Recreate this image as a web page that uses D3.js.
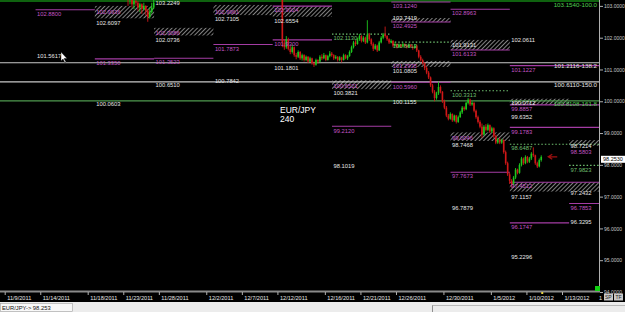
<!DOCTYPE html>
<html>
<head>
<meta charset="utf-8">
<script src="https://cdn.jsdelivr.net/npm/d3@7"></script>
<style>
  body { margin: 0; background: #000; }
  svg { display: block; font-family: "Liberation Sans", Arial, sans-serif; }
</style>
</head>
<body>
<script>
// EUR/JPY 240 chart, Nov 2011 - Jan 2012

// day index of each week boundary (level segments run week to week)
var weekBounds = [2.6, 7.6, 12.6, 17.6, 22.6, 27.6, 32.6, 37.6, 42.6, 47.6, 52.6];

// date axis
var tickDays = [0, 3, 7, 10, 13, 17, 20, 23, 27, 30, 33, 37, 41, 44, 47];
var tickLabels = ["11/9/2011", "11/14/2011", "11/18/2011", "11/23/2011", "11/28/2011", "12/2/2011",
    "12/7/2011", "12/12/2011", "12/16/2011", "12/21/2011", "12/26/2011", "12/30/2011",
    "1/5/2012", "1/10/2012", "1/13/2012"];
var priceTicks = [94, 95, 96, 97, 98, 99, 100, 101, 102, 103];

// full width fib lines
var fibPrices = [103.1540, 101.2116, 100.6110, 100.0108];
var fibTags = ["100.0", "138.2", "150.0", "161.8"];
var fibColors = ["#1fc41f", "#c8c8c8", "#c8c8c8", "#4f9a4f"];

// hatched zones: [week from, week to, top, bottom]
var zones = [
    [1, 2, 103.00, 102.61], [2, 3, 102.31, 102.07], [3, 4, 103.03, 102.71],
    [4, 5, 102.99, 102.66], [5, 6, 100.66, 100.38], [6, 7, 102.62, 102.49],
    [6, 7, 101.27, 101.08], [7, 8, 101.93, 101.61], [7, 8, 99.02, 98.75],
    [8, 9, 100.08, 99.89], [8, 10, 97.45, 97.16], [9, 10, 98.78, 98.60]
];

// weekly levels: [week from, week to, kind, price]
var levels = [
    [0, 1, "line", 102.8800], [0, 1, "text", 101.5617],
    [1, 2, "ptext", 102.9936], [1, 2, "text", 102.6097], [1, 2, "line", 101.3350], [1, 2, "text", 100.0603],
    [2, 3, "text", 103.2249], [2, 3, "ptext", 102.3086], [2, 3, "text", 102.0736], [2, 3, "line", 101.3523], [2, 3, "text", 100.6510],
    [3, 4, "ptext", 102.9961], [3, 4, "text", 102.7105], [3, 4, "line", 101.7873], [3, 4, "text", 100.7842],
    [4, 5, "line", 102.9924], [4, 5, "text", 102.6554], [4, 5, "line", 101.9300], [4, 5, "text", 101.1801],
    [5, 6, "dot", 102.1130], [5, 6, "ptext", 100.6521], [5, 6, "text", 100.3821], [5, 6, "line", 99.2120], [5, 6, "text", 98.1019],
    [6, 7, "line", 103.1240], [6, 7, "text", 102.7419], [6, 7, "line", 102.4925], [6, 7, "dot", 101.8613],
    [6, 7, "ptext", 101.2935], [6, 7, "text", 101.0805], [6, 7, "line", 100.5960], [6, 7, "text", 100.1155],
    [7, 8, "line", 102.8963], [7, 8, "text", 101.9131], [7, 8, "line", 101.6133], [7, 8, "dot", 100.3313],
    [7, 8, "ptext", 99.0046], [7, 8, "text", 98.7468], [7, 8, "line", 97.7673], [7, 8, "text", 96.7879],
    [8, 9, "text", 102.0611], [8, 10, "line", 101.1227], [8, 9, "text", 100.0712], [8, 10, "line", 99.8857],
    [8, 9, "text", 99.6352], [8, 10, "line", 99.1783], [8, 10, "dot", 98.6487], [8, 10, "line", 97.4512],
    [8, 9, "text", 97.1157], [8, 9, "line", 96.1747], [8, 9, "text", 95.2296],
    [9, 10, "text", 98.7214], [9, 10, "ptext", 98.5803], [9, 10, "dot", 97.9823], [9, 10, "text", 97.2432],
    [9, 10, "line", 96.7853], [9, 10, "text", 96.3295]
];

// 4h candles [open, high, low, close]
var startA = 10.4;
var candlesA = [
    [103.30, 103.40, 103.00, 103.20], [103.20, 103.30, 103.05, 103.25], [103.25, 103.35, 102.95, 103.05],
    [103.05, 103.20, 102.90, 103.15], [103.15, 103.30, 103.00, 103.10], [103.10, 103.15, 102.85, 102.95],
    [102.95, 103.10, 102.80, 103.05], [103.05, 103.08, 102.75, 102.90], [102.90, 103.10, 102.86, 103.00],
    [103.00, 103.02, 102.70, 102.85], [102.85, 102.90, 102.50, 102.65], [102.65, 102.95, 102.60, 102.80],
    [102.80, 103.10, 102.76, 102.95], [102.95, 103.30, 102.90, 103.10]
];
var startB = 23.25;
var candlesB = [
    [103.30, 103.45, 103.22, 103.35], [103.35, 103.40, 101.70, 101.85], [101.85, 101.95, 101.62, 101.70],
    [101.70, 102.05, 101.65, 101.95], [101.95, 102.00, 101.60, 101.65], [101.65, 101.75, 101.48, 101.55],
    [101.55, 101.78, 101.50, 101.70], [101.70, 101.72, 101.40, 101.45], [101.45, 101.52, 101.32, 101.40],
    [101.40, 101.60, 101.36, 101.55], [101.55, 101.58, 101.30, 101.35], [101.35, 101.50, 101.28, 101.45],
    [101.45, 101.48, 101.25, 101.30], [101.30, 101.44, 101.26, 101.40], [101.40, 101.42, 101.20, 101.25],
    [101.25, 101.40, 101.22, 101.35], [101.35, 101.37, 101.15, 101.20], [101.20, 101.25, 101.08, 101.15],
    [101.15, 101.34, 101.12, 101.30], [101.30, 101.32, 101.18, 101.25], [101.25, 101.45, 101.22, 101.40],
    [101.40, 101.48, 101.30, 101.35], [101.35, 101.52, 101.32, 101.45], [101.45, 101.47, 101.26, 101.30],
    [101.30, 101.46, 101.28, 101.42], [101.42, 101.58, 101.38, 101.50], [101.50, 101.55, 101.40, 101.45],
    [101.45, 101.48, 101.30, 101.35], [101.35, 101.45, 101.32, 101.40], [101.40, 101.42, 101.25, 101.30],
    [101.30, 101.42, 101.26, 101.38], [101.38, 101.40, 101.22, 101.30], [101.30, 101.50, 101.28, 101.45],
    [101.45, 101.48, 101.32, 101.35], [101.35, 101.46, 101.30, 101.42], [101.42, 101.60, 101.40, 101.55],
    [101.55, 101.75, 101.52, 101.70], [101.70, 101.90, 101.66, 101.85], [101.85, 101.92, 101.74, 101.80],
    [101.80, 102.00, 101.78, 101.95], [101.95, 102.12, 101.90, 102.05], [102.05, 102.08, 101.85, 101.90],
    [101.90, 102.05, 101.86, 102.00], [102.00, 102.03, 101.80, 101.85], [101.85, 102.55, 101.82, 102.10],
    [102.10, 102.15, 101.90, 101.95], [101.95, 101.98, 101.75, 101.80], [101.80, 101.85, 101.58, 101.65],
    [101.65, 101.80, 101.62, 101.75], [101.75, 101.78, 101.55, 101.60], [101.60, 101.90, 101.58, 101.85],
    [101.85, 102.05, 101.82, 102.00], [102.00, 102.15, 101.95, 102.10], [102.10, 102.35, 102.00, 102.05],
    [102.05, 102.08, 101.90, 101.95], [101.95, 101.98, 101.80, 101.85], [101.85, 101.95, 101.82, 101.90],
    [101.90, 101.92, 101.70, 101.75], [101.75, 101.85, 101.72, 101.80], [101.80, 101.82, 101.66, 101.70],
    [101.70, 101.82, 101.68, 101.78], [101.78, 101.80, 101.68, 101.72], [101.72, 101.84, 101.70, 101.80],
    [101.80, 101.82, 101.70, 101.75], [101.75, 101.78, 101.66, 101.70], [101.70, 101.82, 101.68, 101.78],
    [101.78, 101.80, 101.68, 101.72], [101.72, 101.75, 101.62, 101.68], [101.68, 101.80, 101.65, 101.75],
    [101.75, 101.78, 101.55, 101.60], [101.60, 101.62, 101.35, 101.40], [101.40, 101.45, 101.25, 101.30],
    [101.30, 101.34, 101.15, 101.20], [101.20, 101.22, 100.98, 101.05], [101.05, 101.10, 100.85, 100.90],
    [100.90, 100.95, 100.70, 100.75], [100.75, 100.78, 100.45, 100.50], [100.50, 100.55, 100.25, 100.30],
    [100.30, 100.35, 100.00, 100.10], [100.10, 100.30, 100.05, 100.25], [100.25, 100.62, 100.20, 100.45],
    [100.45, 100.50, 100.25, 100.30], [100.30, 100.32, 99.95, 100.00], [100.00, 100.05, 99.75, 99.80],
    [99.80, 99.85, 99.50, 99.55], [99.55, 99.60, 99.40, 99.45], [99.45, 99.65, 99.42, 99.60],
    [99.60, 99.62, 99.35, 99.40], [99.40, 99.58, 99.36, 99.55], [99.55, 99.57, 99.30, 99.35],
    [99.35, 99.55, 99.32, 99.50], [99.50, 99.70, 99.48, 99.65], [99.65, 99.85, 99.60, 99.80],
    [99.80, 99.84, 99.70, 99.75], [99.75, 99.98, 99.72, 99.95], [99.95, 100.10, 99.90, 100.05],
    [100.05, 100.08, 99.85, 99.90], [99.90, 100.00, 99.86, 99.95], [99.95, 99.97, 99.65, 99.70],
    [99.70, 99.74, 99.45, 99.50], [99.50, 99.55, 99.30, 99.35], [99.35, 99.40, 99.15, 99.20],
    [99.20, 99.30, 98.85, 98.95], [98.95, 99.25, 98.92, 99.20], [99.20, 99.28, 99.05, 99.10],
    [99.10, 99.30, 99.06, 99.25], [99.25, 99.27, 99.00, 99.05], [99.05, 99.20, 99.00, 99.15],
    [99.15, 99.18, 98.85, 98.90], [98.90, 98.95, 98.65, 98.70], [98.70, 98.85, 98.66, 98.80],
    [98.80, 98.84, 98.65, 98.70], [98.70, 98.82, 98.66, 98.78], [98.78, 98.80, 98.35, 98.40],
    [98.40, 98.45, 98.00, 98.05], [98.05, 98.10, 97.65, 97.70], [97.70, 97.75, 97.40, 97.50],
    [97.50, 97.55, 97.28, 97.40], [97.40, 97.65, 97.35, 97.60], [97.60, 97.90, 97.55, 97.85],
    [97.85, 97.88, 97.70, 97.75], [97.75, 98.05, 97.72, 98.00], [98.00, 98.25, 97.95, 98.20],
    [98.20, 98.23, 98.00, 98.05], [98.05, 98.30, 98.02, 98.25], [98.25, 98.28, 98.05, 98.10],
    [98.10, 98.25, 98.06, 98.20], [98.20, 98.40, 98.15, 98.35], [98.35, 98.55, 98.25, 98.30],
    [98.30, 98.32, 98.00, 98.05], [98.05, 98.10, 97.90, 97.95], [97.95, 98.20, 97.92, 98.15],
    [98.15, 98.30, 98.10, 98.25]
];
var lastPrice = 98.2530;

var width = 625, height = 312;
var plotW = 600, plotH = 292;

var x = d3.scaleLinear().domain([0, 47]).range([4.7, 562]);
var y = d3.scaleLinear().domain([94, 103]).range([292, 5.9]);

var purple = "#a43ca4", purpleText = "#c455c4", green = "#6fbf6f", white = "#e6e6e6";

var svg = d3.select("body").append("svg")
    .attr("width", width)
    .attr("height", height);

var defs = svg.append("defs");
defs.append("clipPath").attr("id", "plot")
    .append("rect").attr("width", plotW).attr("height", plotH);
var hatch = defs.append("pattern")
    .attr("id", "hatch")
    .attr("patternUnits", "userSpaceOnUse")
    .attr("width", 3).attr("height", 3)
    .attr("patternTransform", "rotate(45)");
hatch.append("line")
    .attr("x1", 0).attr("y1", 0).attr("x2", 0).attr("y2", 3)
    .attr("stroke", "#d8d8d8").attr("stroke-width", 1.2);

svg.append("rect").attr("width", width).attr("height", height).attr("fill", "#000");

var plot = svg.append("g").attr("clip-path", "url(#plot)");

function wx(w){ return x(weekBounds[w]); }

// hatched zones
plot.selectAll(".zone")
    .data(zones)
    .enter()
    .append("rect")
    .attr("class", "zone")
    .attr("x", function(d){ return wx(d[0]); })
    .attr("width", function(d){ return wx(d[1]) - wx(d[0]); })
    .attr("y", function(d){ return y(d[2]); })
    .attr("height", function(d){ return y(d[3]) - y(d[2]); })
    .attr("fill", "url(#hatch)");

// full width fib lines
plot.selectAll(".fib")
    .data(fibPrices)
    .enter()
    .append("line")
    .attr("class", "fib")
    .attr("x1", 0).attr("x2", plotW)
    .attr("y1", function(d){ return Math.max(1, y(d)); })
    .attr("y2", function(d){ return Math.max(1, y(d)); })
    .attr("stroke", function(d, i){ return fibColors[i]; })
    .attr("stroke-width", 1.2);

// weekly level lines
plot.selectAll(".lvl")
    .data(levels.filter(function(d){ return d[2] == "line" || d[2] == "dot"; }))
    .enter()
    .append("line")
    .attr("class", "lvl")
    .attr("x1", function(d){ return wx(d[0]); })
    .attr("x2", function(d){ return wx(d[1]); })
    .attr("y1", function(d){ return y(d[3]); })
    .attr("y2", function(d){ return y(d[3]); })
    .attr("stroke", function(d){ return d[2] == "dot" ? green : purple; })
    .attr("stroke-width", 1.1)
    .attr("stroke-dasharray", function(d){ return d[2] == "dot" ? "1.5,2" : null; });

// candles
function drawCandles(data, start, cls){
    var g = plot.selectAll("." + cls)
        .data(data)
        .enter()
        .append("g")
        .attr("class", cls);
    g.append("line")
        .attr("x1", function(d, i){ return x(start + i / 6); })
        .attr("x2", function(d, i){ return x(start + i / 6); })
        .attr("y1", function(d){ return y(d[1]); })
        .attr("y2", function(d){ return y(d[2]); })
        .attr("stroke", function(d){ return d[3] >= d[0] ? "#1ec81e" : "#d01818"; })
        .attr("stroke-width", 0.9);
    g.append("rect")
        .attr("x", function(d, i){ return x(start + i / 6) - 0.8; })
        .attr("width", 1.6)
        .attr("y", function(d){ return y(Math.max(d[0], d[3])); })
        .attr("height", function(d){ return Math.max(0.8, Math.abs(y(d[0]) - y(d[3]))); })
        .attr("fill", function(d){ return d[3] >= d[0] ? "#1ec81e" : "#d01818"; });
}
drawCandles(candlesA, startA, "candleA");
drawCandles(candlesB, startB, "candleB");

// level labels (text under its price; zone texts a little lower)
plot.selectAll(".lbl")
    .data(levels)
    .enter()
    .append("text")
    .attr("class", "lbl")
    .attr("x", function(d){ return wx(d[0]) + 1.5; })
    .attr("y", function(d){ return y(d[3]) + (d[2] == "ptext" ? 7.5 : 6.2); })
    .attr("font-size", 5.8)
    .attr("fill", function(d){
        if (d[2] == "text") return white;
        if (d[2] == "dot") return green;
        return purpleText;
    })
    .text(function(d){ return d[3].toFixed(4); });

// fib labels
plot.selectAll(".fibLbl")
    .data(fibPrices)
    .enter()
    .append("text")
    .attr("class", "fibLbl")
    .attr("x", 597)
    .attr("y", function(d){ return Math.max(1, y(d)) + 5.5; })
    .attr("text-anchor", "end")
    .attr("font-size", 6.2)
    .attr("fill", function(d, i){ return i == 0 || i == 3 ? "#4fd04f" : white; })
    .text(function(d, i){ return d.toFixed(4) + "-" + fibTags[i]; });

// symbol title
plot.append("text").attr("x", 280).attr("y", 113).attr("font-size", 8.5).attr("fill", "#fff").text("EUR/JPY");
plot.append("text").attr("x", 280).attr("y", 122).attr("font-size", 8.5).attr("fill", "#fff").text("240");

// marker arrow at last bar
var ax = x(startB + (candlesB.length - 1) / 6) + 7, ay = y(lastPrice);
plot.append("path")
    .attr("d", "M" + (ax + 9) + "," + ay + "H" + (ax + 1) + "M" + (ax + 4) + "," + (ay - 2.5) + "L" + ax + "," + ay + "L" + (ax + 4) + "," + (ay + 2.5))
    .attr("stroke", "#a01010").attr("stroke-width", 1.3).attr("fill", "none");

// mouse cursor
plot.append("path")
    .attr("d", "M61,52 L61,61 L63,59 L65,63 L66,62 L64,58.5 L67,58.5 Z")
    .attr("fill", "#fff").attr("stroke", "#000").attr("stroke-width", 0.4);

// price axis
svg.append("line").attr("x1", 599.5).attr("x2", 599.5).attr("y1", 0).attr("y2", 292)
    .attr("stroke", "#b0b0b0").attr("stroke-width", 1);
var yAxis = svg.append("g")
    .attr("transform", "translate(600,0)")
    .call(d3.axisRight(y).tickValues(priceTicks).tickFormat(d3.format(".4f")).tickSize(3));
yAxis.select(".domain").remove();
yAxis.selectAll("line").attr("stroke", "#b0b0b0");
yAxis.selectAll("text").attr("fill", "#c8c8c8").attr("font-size", 5).attr("x", 4).attr("font-family", "Liberation Sans, Arial");

// last price box
svg.append("rect").attr("x", 601).attr("y", y(lastPrice) - 1).attr("width", 24).attr("height", 7).attr("fill", "#fff");
svg.append("text").attr("x", 603).attr("y", y(lastPrice) + 4.5).attr("font-size", 5.5).attr("fill", "#000")
    .text(lastPrice.toFixed(4));

// time axis
svg.append("rect").attr("x", 0).attr("y", 290.5).attr("width", 600).attr("height", 2).attr("fill", "#8a8a8a");
var xAxis = svg.append("g")
    .attr("transform", "translate(0,292)")
    .call(d3.axisBottom(x).tickValues(tickDays).tickFormat(function(d, i){ return tickLabels[i]; }).tickSize(3));
xAxis.select(".domain").remove();
xAxis.selectAll("line").attr("stroke", "#b0b0b0");
xAxis.selectAll("text")
    .attr("text-anchor", "start")
    .attr("dx", 2).attr("y", 4).attr("dy", "0.71em")
    .attr("fill", "#e8e8e8").attr("font-size", 5.6).attr("font-family", "Liberation Sans, Arial");
svg.append("rect").attr("x", x(startB + (candlesB.length - 1) / 6)).attr("y", 292).attr("width", 2).attr("height", 2).attr("fill", "#e8d040");

// corner bits
svg.append("rect").attr("x", 595).attr("y", 286).attr("width", 5).attr("height", 5).attr("fill", "#10d010");
svg.append("text").attr("x", 599).attr("y", 300).attr("font-size", 5.5).attr("fill", "#e8e8e8").text("1");
svg.append("rect").attr("x", 604).attr("y", 293.5).attr("width", 9).attr("height", 7).attr("fill", "#c8c8c8");
svg.append("rect").attr("x", 614).attr("y", 293.5).attr("width", 9).attr("height", 7).attr("fill", "#c8c8c8");
svg.append("text").attr("x", 605).attr("y", 299).attr("font-size", 5).attr("fill", "#222").text("SP");
svg.append("text").attr("x", 615.5).attr("y", 299).attr("font-size", 5).attr("fill", "#222").text("TF");

// status bar
svg.append("rect").attr("x", 0).attr("y", 302).attr("width", width).attr("height", 10).attr("fill", "#ececec");
svg.append("rect").attr("x", 0.5).attr("y", 303.5).attr("width", 72).attr("height", 8).attr("fill", "#f8f8f8").attr("stroke", "#a0a0a0").attr("stroke-width", 0.6);
svg.append("text").attr("x", 2).attr("y", 309.5).attr("font-size", 5.8).attr("fill", "#111").text("EUR/JPY-> " + lastPrice.toFixed(3));
svg.append("line").attr("x1", 432.5).attr("x2", 432.5).attr("y1", 305).attr("y2", 312).attr("stroke", "#909090");
svg.append("line").attr("x1", 432.5).attr("x2", 625).attr("y1", 305.5).attr("y2", 305.5).attr("stroke", "#b8b8b8");
</script>
</body>
</html>
